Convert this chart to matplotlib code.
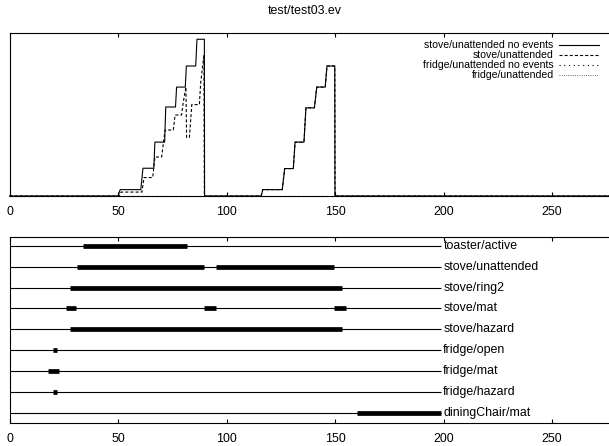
import matplotlib
matplotlib.use('Agg')
import matplotlib.pyplot as plt

plt.rcParams['font.family'] = ['Liberation Sans', 'DejaVu Sans']
plt.rcParams['lines.scale_dashes'] = False

title = "test/test03.ev"
xticks = [0, 50, 100, 150, 200, 250]

# ---- top chart series (values as percent of plot height) ----
stove_nev_x = [0, 50, 51, 60.5, 61.5, 66.5, 67, 71.5, 72, 76.5, 77, 81, 81.5, 85.8, 86.4, 89.8, 89.9,
               116, 116.7, 125.7, 126.8, 130.8, 131.6, 135.7, 136.6, 140.5, 141.6, 145.5, 146.3, 149.9, 150, 300]
stove_nev_y = [0, 0, 3.9, 3.9, 17, 17, 33, 33, 54.5, 54.5, 66.7, 66.7, 79.6, 79.6, 96, 96, 0,
               0, 3.9, 3.9, 16.8, 16.8, 33, 33, 54, 54, 66.7, 66.7, 79.6, 79.6, 0, 0]

stove_un_x = [0, 50.5, 51.4, 61, 62, 66, 67, 70.1, 71.7, 75.5, 76.3, 79.3, 80.1, 81.3, 81.6, 82.9, 84, 87.5,
              88.1, 89.6, 89.8, 116, 116.7, 125.7, 126.8, 130.8, 131.6, 135.7, 136.6, 140.5, 141.6, 145.5,
              146.3, 149.9, 150, 300]
stove_un_y = [0, 0, 2.4, 2.4, 11.3, 11.3, 23.9, 23.9, 40.4, 40.4, 49.6, 49.6, 57.6, 66.7, 35.9, 35.9, 56, 56,
              69.2, 86.3, 0, 0, 3.9, 3.9, 16.8, 16.8, 33, 33, 54, 54, 66.7, 66.7,
              79.6, 79.6, 0, 0]

fridge_nev_x = [0, 300]
fridge_nev_y = [0, 0]
fridge_un_x = [0, 300]
fridge_un_y = [0, 0]

series_labels = ["stove/unattended no events", "stove/unattended",
                 "fridge/unattended no events", "fridge/unattended"]

# ---- bottom chart ----
row_names = ["diningChair/mat", "fridge/hazard", "fridge/mat", "fridge/open", "stove/hazard",
             "stove/mat", "stove/ring2", "stove/unattended", "toaster/active"]
timeline_start = 0
timeline_end = 199
bar_rows = ["toaster/active", "stove/unattended", "stove/unattended", "stove/ring2",
            "stove/mat", "stove/mat", "stove/mat", "stove/hazard",
            "fridge/open", "fridge/mat", "fridge/hazard", "diningChair/mat"]
bar_starts = [34, 31, 95, 27.9, 25.9, 89.8, 149.7, 27.9, 19.9, 17.9, 19.9, 160]
bar_ends = [81.7, 89.6, 149.7, 153.1, 30.8, 95, 154.9, 153.1, 21.9, 22.8, 21.9, 199]

W, H = 609, 446
fig = plt.figure(figsize=(W / 100, H / 100), dpi=100)

px_per_unit = 2.17
x_left = 9.5
xmax = 300
axw = xmax * px_per_unit / W

ax1 = fig.add_axes([x_left / W, (H - 196) / H, axw, 163.3 / H])
ax2 = fig.add_axes([x_left / W, (H - 422.5) / H, axw, 185.8 / H])

fs = 8.9
lfs = 7.6

ax1.plot(stove_nev_x, stove_nev_y, color='black', lw=0.8, clip_on=False, label=series_labels[0])
ax1.plot(stove_un_x, stove_un_y, color='black', lw=0.8, ls=(0, (2.2, 1.5)), clip_on=False, label=series_labels[1])
ax1.plot(fridge_nev_x, fridge_nev_y, color='black', lw=0.8, ls=(0, (0.8, 2.6)), clip_on=False, label=series_labels[2])
ax1.plot(fridge_un_x, fridge_un_y, color='#555555', lw=0.7, ls=(0, (0.6, 1.0)), clip_on=False, label=series_labels[3])
ax1.set_xlim(0, xmax)
ax1.set_ylim(0, 100)
ax1.set_yticks([])
leg = ax1.legend(loc='upper right', bbox_to_anchor=((599 - x_left) / (xmax * px_per_unit), (196 - 40.5) / 163.3),
                 frameon=False, fontsize=lfs, markerfirst=False, borderpad=0, borderaxespad=0,
                 handlelength=3.8, handletextpad=0.5, labelspacing=0.0)

for i, name in enumerate(row_names):
    ax2.plot([timeline_start, timeline_end], [i, i], color='black', lw=0.8, solid_capstyle='butt')
    ax2.text(timeline_end + 0.9, i, name, fontsize=fs, ha='left', va='center')
for r, s, e in zip(bar_rows, bar_starts, bar_ends):
    y = row_names.index(r)
    ax2.plot([s, e], [y, y], color='black', lw=3.4, solid_capstyle='butt')
ax2.set_xlim(0, xmax)
ax2.set_ylim(-0.48, len(row_names) - 1 + 0.45)
ax2.set_yticks([])

for ax, pad in ((ax1, 7.0), (ax2, 7.8)):
    ax.set_xticks(xticks)
    ax.tick_params(axis='x', direction='in', top=True, length=2.9, width=0.8, labelsize=fs, pad=pad)
    for sp in ax.spines.values():
        sp.set_linewidth(0.8)

fig.text(0.5, 1 - 11.5 / H, title, ha='center', va='center', fontsize=fs)

fig.savefig('out.png', dpi=100)
